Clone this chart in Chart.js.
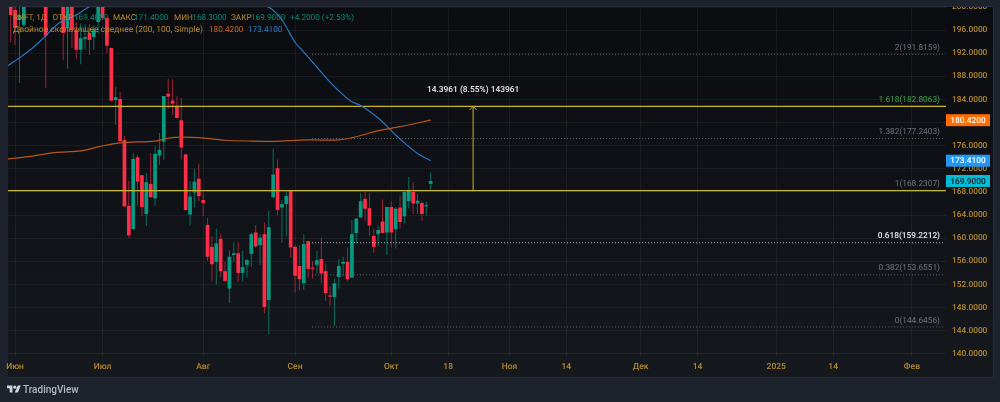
<!DOCTYPE html>
<html>
<head>
<meta charset="utf-8">
<title>RNFT, 1Д</title>
<script src="https://cdn.jsdelivr.net/npm/chart.js@4"></script>
<style>
    html, body { margin: 0; padding: 0; background: #1e222d; overflow: hidden; }
    #chart { position: absolute; left: 0; top: 0; }
    #brand { position: absolute; left: 7px; top: 381px; height: 16px; display: flex; align-items: center; color: #b4b8c3; font: 500 10px Roboto, sans-serif; }
    #brand svg { margin-right: 2px; }
</style>
</head>
<body>
<canvas id="chart" width="1000" height="402"></canvas>
<div id="brand">
    <svg width="14" height="11" viewBox="0 0 36 28"><path fill="#d1d4dc" d="M14 22H7V11H0V4h14v18zM28 22h-8l7.5-18h8L28 22z"/><circle fill="#d1d4dc" cx="20" cy="8" r="4"/></svg>
    <span>TradingView</span>
</div>
<script>
// Daily candles, null where the bar sits above the visible price range
const opens = [203, 199.5, 197.75, 196.9, null, null, null, null, 203, null, null, null, 202, 196.4, 200.2, 196, 192.6, 194.5, 195.5, 194.8, 197.4, 200.5, 198.1, 192.9, 183.9, 184.1, 177, 165.6, 161.6, 174, 170.9, 164.2, 169.4, 166.9, 174.3, 176.7, 185, 183.8, 182.9, 180.4, 174.5, 164.1, 167.9, 170.3, 166.6, 162.3, 158.5, 155.9, 159.9, 154.3, 151.3, 157.1, 157.4, 154, 155.4, 157.3, 161, 158.8, 160.7, 149.3, 167.1, 172.1, 165.3, 165.9, 168.2, 158.5, 155.2, 152.2, 159.5, 154.9, 155.4, 156.4, 154.3, 150, 149.8, 153.3, 155.6, 155.9, 153.2, 160.9, 163.6, 166.8, 165.2, 160.4, 160.7, 162.9, 161, 165.4, 161.6, 165.3, 163.8, 166.4, 168, 166, 166.1, 165.5, 169.4];
const highs = [204, 200.5, 200.5, 202, null, null, null, null, 205, null, null, null, 203, 202, 201, 197.4, 197.2, 197, 197, 196.9, 201, 202, 198.3, 193, 186.2, 185.3, 177.7, 169.9, 174.7, 174.4, 170.9, 171.3, 174.7, 175.9, 178.2, 184.6, 187.5, 187.5, 184.5, 184.3, 174.6, 169.9, 172, 172.9, 167.9, 163.5, 160.4, 161.7, 160.8, 155.9, 157.9, 159.3, 159.4, 157.8, 156.4, 160.9, 162.3, 160.7, 162.7, 164.7, 175.5, 173.6, 166.6, 168.2, 168.2, 158.8, 158.8, 160.7, 159.5, 156.1, 157.8, 160.1, 155.5, 151.7, 153, 156.4, 156.8, 158.4, 163.1, 163.4, 167.8, 168.1, 167.8, 161.7, 162.2, 166.7, 165.4, 166.4, 165.4, 167.4, 168.3, 170.6, 169.7, 167.7, 166.4, 166.3, 171.4];
const lows = [193.9, 193.4, 186.85, 196.5, null, null, null, null, 186, null, null, null, 190.8, 189.3, 192.9, 191.1, 190.1, 192.6, 191.7, 192.6, 195.5, 197.7, 192, 183.7, 179.6, 176.6, 165.4, 160.1, 161.4, 165.6, 163.8, 162.1, 167, 165.6, 172.7, 173.5, 182.4, 181.3, 180.7, 173.6, 164.8, 162.2, 165.3, 166.4, 163.9, 156.1, 152.6, 152, 153.3, 152.5, 148.8, 155.9, 152.5, 152.6, 153.2, 155, 158.3, 155.4, 147, 143.4, 166.9, 164, 159.2, 160.3, 156.7, 150.6, 151, 151.1, 153.2, 153, 153.9, 152.2, 149.2, 148.3, 144.8, 151.3, 153.5, 152.6, 153.2, 159.1, 163.5, 163, 160.4, 157.5, 158.7, 160.9, 157.1, 158.4, 158.2, 161.7, 162.6, 165.2, 164.2, 164.2, 163, 163.9, 168.3];
const closes = [198.6, 196.4, 198.6, 200.5, null, null, null, null, 195, null, null, null, 195.5, 200, 196, 192.6, 194.6, 194.8, 194.3, 196, 200, 198.1, 193.3, 183.8, 184.4, 176.8, 165.5, 160.5, 173.7, 169.8, 165.4, 169.7, 167.1, 174.6, 175.3, 184.6, 184.5, 183.3, 180.8, 175.7, 164.9, 167.2, 169.8, 167.3, 166.1, 156.8, 155.5, 159.1, 154.3, 152.6, 156.8, 157.4, 154, 155, 156.2, 160.7, 158.6, 160.1, 148.1, 161.9, 171, 164.9, 165.9, 167.3, 158.4, 153.5, 152.9, 159, 154.7, 154.7, 156.2, 153.9, 150.5, 149.9, 152.2, 155.2, 155.9, 152.9, 160.7, 163.4, 166.4, 165.1, 162.2, 158.5, 161.4, 160.9, 165.4, 161, 165.1, 162.8, 168, 168.2, 166, 166.5, 164.2, 165.7, 169.9];

// Double moving average, read at the bars where the curves bend
const ma100Bars = [-1, 2, 5, 8, 11, 15, 18, 25, 40, 50, 59, 62, 65, 67, 70, 73, 76, 78, 80, 84, 86, 88, 90, 93, 96];
const ma100Values = [189.67, 191.2, 192.9, 195, 197.2, 198.6, 200.05, 201.5, 203, 202, 199.95, 197.75, 193.9, 192.2, 189.6, 187, 184.8, 183.6, 182.95, 180.8, 179.4, 177.85, 176.5, 174.65, 173.41];
const ma200Bars = [-1, 4, 10, 16, 20, 25, 33, 36, 39, 43, 49, 55, 60, 68, 75, 79, 84, 89, 96];
const ma200Values = [173.7, 174.1, 174.8, 175.1, 175.8, 176.5, 176.8, 177.3, 177.5, 177.4, 176.95, 176.8, 176.75, 177, 177, 177.55, 178.6, 179.29, 180.42];

// Fibonacci levels
const fibLabels = ['2(191.8159)', '1.618(182.8063)', '1.382(177.2403)', '1(168.2307)', '0.618(159.2212)', '0.382(153.6551)', '0(144.6456)'];
const fibValues = [191.8159, 182.8063, 177.2403, 168.2307, 159.2212, 153.6551, 144.6456];
const fibColors = ['#6f727c', '#43a047', '#6f727c', '#6f727c', '#e8e9ec', '#6f727c', '#6f727c'];
const fibLineColors = ['#5d606a', '#c8b62a', '#5d606a', '#c8b62a', '#b9bbc2', '#5d606a', '#5d606a'];
const fibSolid = [false, true, false, true, false, false, false];

// Price range measure
const measureBar = 105.7;
const measureFrom = 168.2307;
const measureTo = 182.8063;
const measureText = '14.3961 (8.55%) 143961';

// Axes
const priceTicks = [140, 144, 148, 152, 156, 160, 164, 168, 172, 176, 180, 184, 188, 192, 196, 200];
const timeBars = [1, 21, 44, 65, 87, 100, 114, 127, 144, 157, 175, 188, 206];
const timeLabels = ['Июн', 'Июл', 'Авг', 'Сен', 'Окт', '18', 'Ноя', '14', 'Дек', '14', '2025', '14', 'Фев'];

// Last value tags on the price axis
const tagValues = [180.42, 173.41, 169.9];
const tagBacks = ['#ff6d00', '#2196f3', '#00bcd4'];
const tagInks = ['#ffffff', '#ffffff', '#131722'];

// Header lines: text, left edge, colour, font size
const GOLD = '#b5892f';
const TEAL = '#0b8a74';
const headerRow1 = [
    ['RNFT, 1Д', 13, GOLD, 8.2], ['ОТКР', 52.5, GOLD, 8.2], ['169.4000', 74, TEAL, 8.2], ['МАКС', 113, GOLD, 8.2], ['171.4000', 134, TEAL, 8.2],
    ['МИН', 174, GOLD, 8.2], ['168.3000', 192.3, TEAL, 8.2], ['ЗАКР', 231, GOLD, 8.2], ['169.9000', 251, TEAL, 8.2], ['+4.2000 (+2.53%)', 290, TEAL, 8.2]
];
const headerRow2 = [
    ['Двойное скользящее среднее (200, 100, Simple)', 13, GOLD, 8.48], ['180.4200', 209, '#d9621a', 8.2], ['173.4100', 248, '#2a80d0', 8.2]
];

const RED = '#ff2e48';
const GREEN = '#089a80';
const RED_WICK = '#a02238';
const GREEN_WICK = '#0b6f5e';
const TEXT_FONT = 'Roboto, sans-serif';

const candleBars = opens.map((_, i) => i).filter(i => opens[i] !== null);

// Panel background, header text, level labels and price tags
const overlay = {
    id: 'overlay',
    beforeDraw(chart) {
        const ctx = chart.ctx;
        ctx.textRendering = 'geometricPrecision';
        const gradient = ctx.createLinearGradient(0, 7, 0, 377);
        gradient.addColorStop(0, '#0a0c10');
        gradient.addColorStop(1, '#15181d');
        ctx.fillStyle = '#2a2e39';
        ctx.fillRect(8, 6, 986, 372);
        ctx.fillStyle = gradient;
        ctx.fillRect(8, 7, 985, 370);
    },
    afterDatasetsDraw(chart) {
        const ctx = chart.ctx;
        const y = chart.scales.y;
        const x = chart.scales.x;
        ctx.save();

        // Chevron on top of the measure line
        const tipX = x.getPixelForValue(measureBar);
        const tipY = y.getPixelForValue(measureTo);
        ctx.strokeStyle = '#c8b62a';
        ctx.lineWidth = 1;
        ctx.beginPath();
        ctx.moveTo(tipX - 3.5, tipY + 3.5);
        ctx.lineTo(tipX, tipY);
        ctx.lineTo(tipX + 3.5, tipY + 3.5);
        ctx.stroke();

        ctx.textBaseline = 'middle';
        ctx.fillStyle = '#e8e9ec';
        ctx.textAlign = 'center';
        ctx.font = '500 8.4px ' + TEXT_FONT;
        ctx.fillText(measureText, tipX, tipY - 16);

        // Level captions
        ctx.textAlign = 'right';
        fibLabels.forEach((label, i) => {
            ctx.font = (fibColors[i] === '#e8e9ec' ? '500 ' : '') + '8.3px ' + TEXT_FONT;
            ctx.fillStyle = fibColors[i];
            ctx.fillText(label, 940, y.getPixelForValue(fibValues[i]) - 6.5);
        });

        // Header over the candles
        ctx.textAlign = 'left';
        [[headerRow1, 17.5], [headerRow2, 30]].forEach(([row, rowY]) => {
            row.forEach(([text, textX, color, size]) => {
                ctx.font = size + 'px ' + TEXT_FONT;
                ctx.fillStyle = color;
                ctx.fillText(text, textX, rowY);
            });
        });
        ctx.restore();
    },
    afterDraw(chart) {
        const ctx = chart.ctx;
        const y = chart.scales.y;
        ctx.save();

        // Top edge cuts off the highest tick label
        ctx.fillStyle = '#1e222d';
        ctx.fillRect(0, 0, 1000, 6);
        ctx.fillStyle = '#2a2e39';
        ctx.fillRect(8, 6, 986, 1);

        ctx.textBaseline = 'middle';
        ctx.textAlign = 'center';
        ctx.font = '500 8.3px ' + TEXT_FONT;
        tagValues.forEach((value, i) => {
            const py = y.getPixelForValue(value);
            ctx.fillStyle = tagBacks[i];
            ctx.fillRect(946, py - 6, 44, 12);
            ctx.fillStyle = tagInks[i];
            ctx.fillText(value.toFixed(4), 968, py + 0.5);
        });
        ctx.restore();
    }
};

const fibDatasets = fibValues.map((value, i) => ({
    type: 'line',
    data: fibSolid[i]
        ? [{ x: -1, y: value }, { x: 214, y: value }]
        : [{ x: 68.9, y: value }, { x: 213.6, y: value }],
    borderColor: fibLineColors[i],
    borderWidth: fibSolid[i] ? 1.2 : 1,
    borderDash: fibSolid[i] ? [] : [1, 2],
    pointRadius: 0,
    order: 1
}));

new Chart(document.getElementById('chart').getContext('2d'), {
    type: 'bar',
    data: {
        datasets: [
            {
                data: candleBars.map(i => ({ x: i, y: [Math.min(opens[i], closes[i]), Math.max(opens[i], closes[i])] })),
                backgroundColor: candleBars.map(i => (closes[i] < opens[i] ? RED : GREEN)),
                barThickness: 3.7,
                minBarLength: 1,
                inflateAmount: 0,
                grouped: false,
                order: 2
            },
            {
                data: candleBars.map(i => ({ x: i, y: [lows[i], highs[i]] })),
                backgroundColor: candleBars.map(i => (closes[i] < opens[i] ? RED_WICK : GREEN_WICK)),
                barThickness: 1,
                inflateAmount: 0,
                grouped: false,
                order: 3
            },
            {
                type: 'line',
                data: ma200Bars.map((bar, i) => ({ x: bar, y: ma200Values[i] })),
                borderColor: '#b8561a',
                borderWidth: 1.2,
                tension: 0.3,
                pointRadius: 0,
                order: 1
            },
            {
                type: 'line',
                data: ma100Bars.map((bar, i) => ({ x: bar, y: ma100Values[i] })),
                borderColor: '#2a76c4',
                borderWidth: 1.2,
                tension: 0.3,
                pointRadius: 0,
                order: 1
            },
            ...fibDatasets,
            {
                type: 'line',
                data: [{ x: measureBar, y: measureFrom }, { x: measureBar, y: measureTo }],
                borderColor: '#c8b62a',
                borderWidth: 1,
                pointRadius: 0,
                order: 1
            }
        ]
    },
    options: {
        responsive: false,
        animation: false,
        layout: { padding: { left: 8, right: 7, top: 7, bottom: 25 } },
        plugins: { legend: { display: false }, tooltip: { enabled: false }, title: { display: false } },
        scales: {
            x: {
                type: 'linear',
                offset: false,
                min: -0.617,
                max: 213.8,
                afterFit: scale => { scale.height = 20; scale.paddingLeft = 0; scale.paddingRight = 0; },
                afterBuildTicks: scale => { scale.ticks = timeBars.map(value => ({ value })); },
                grid: { offset: false, color: 'rgba(255,255,255,0.05)', drawTicks: false },
                border: { display: false },
                ticks: {
                    autoSkip: false,
                    maxRotation: 0,
                    padding: 5,
                    color: GOLD,
                    font: { family: TEXT_FONT, size: 8.5, weight: '500' },
                    callback: value => timeLabels[timeBars.indexOf(value)]
                }
            },
            y: {
                position: 'right',
                min: 139.45,
                max: 200,
                afterFit: scale => { scale.width = 47; scale.paddingTop = 0; scale.paddingBottom = 0; },
                afterBuildTicks: scale => { scale.ticks = priceTicks.map(value => ({ value })); },
                grid: { color: 'rgba(255,255,255,0.05)', drawTicks: false },
                border: { display: false },
                ticks: {
                    padding: 6,
                    color: GOLD,
                    font: { family: TEXT_FONT, size: 8.3, weight: '500' },
                    callback: value => value.toFixed(4)
                }
            }
        }
    },
    plugins: [overlay]
});
</script>
</body>
</html>
